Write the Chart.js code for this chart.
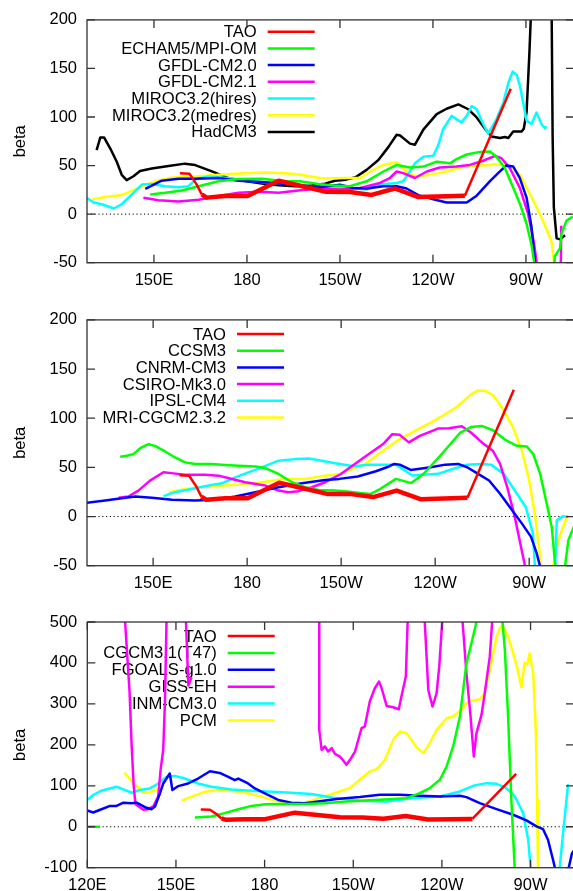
<!DOCTYPE html>
<html>
<head>
<meta charset="utf-8">
<script src="https://cdn.jsdelivr.net/npm/chart.js@4.4.1/dist/chart.umd.min.js"></script>
<style>
  html, body { margin: 0; padding: 0; background: #fff; overflow: hidden; width: 573px; height: 891px; }
  canvas { position: absolute; left: 0; }
</style>
</head>
<body>
<canvas id="p1" width="580" height="300" style="top:0px"></canvas>
<canvas id="p2" width="580" height="300" style="top:300px"></canvas>
<canvas id="p3" width="580" height="291" style="top:600px"></canvas>
<script>
// longitude ticks (degrees east)
const lonTicks = [120, 150, 180, 210, 240, 270];
const lonLabels = ['120E', '150E', '180', '150W', '120W', '90W'];

// observations, same in all panels; thick between these longitudes
const tao = [[158.4,42],[161.5,41.5],[163.8,30.4],[165.4,20.3],[167,17],[173,18.6],[180.2,18.6],[190.2,34.4],[205.5,23],[213.2,22.8],[220.2,19.8],[227.7,26.4],[235.3,17.6],[250.3,19],[265.1,129]];
const taoThick = [165.4, 250.3];

// panel 1
const echam5 = [[148.8,20.3],[153.6,22],[159,24.3],[164.4,28.7],[170.8,33.8],[177.3,36.1],[184.8,36.5],[192.3,33.8],[197.1,33.8],[203,31],[207.9,29.5],[213.2,28.8],[218.6,33.8],[224,43.9],[228.3,50.7],[232.6,48],[236.9,49],[241.2,54],[245.5,52.3],[247.6,56.7],[250.9,61.4],[255.1,64.1],[258.4,64.5],[260.5,59.2],[263.2,47.4],[265.9,27.2],[268.1,10.3],[270.2,-9.9],[271.8,-31.8],[272.6,-48.6],[274,-90],[278.5,-90],[279.3,-43.5],[281,-35],[281.5,-20],[283.1,-6.5],[285.1,-2.5]];
const gfdl20 = [[147.2,26],[152.5,34.4],[157.9,36.5],[163.3,36.5],[170.8,37.1],[177.3,34.4],[184.8,33.1],[192.3,31],[197.1,29.4],[203.6,27.7],[210,30.4],[214.3,27],[218.6,26.4],[224,28.8],[228.3,28.8],[231.5,26.4],[235.3,19.6],[240.1,15.3],[244.4,11.9],[250.9,11.9],[254.1,19],[258.4,33.9],[261.6,44],[263.7,50.1],[265.9,49],[268,37.3],[270.2,17],[271.8,-13.3],[272.9,-48.6],[274,-90]];
const gfdl21 = [[146.6,16.9],[151.5,14.2],[157.9,12.9],[164.4,14.9],[170.8,18.6],[177.3,22],[183.7,23],[190.2,22],[196.6,24.3],[203.1,26.5],[210,25.4],[216.5,27],[222.9,32.1],[226.1,37.2],[228.3,43.9],[230.4,42.2],[234.2,37.2],[238,43.9],[242.2,48],[247.6,49],[251.9,50.7],[256.2,55],[260,59.9],[262.1,57.5],[264.8,47.4],[268,27.2],[270.7,0.2],[272.6,-30],[273.4,-48.6],[275,-120],[281,-120],[281.4,-12]];
const mirocHi = [[128.3,16.9],[130.5,11.9],[133.2,10.2],[137,5.8],[139.6,10.2],[142.9,20.3],[146.1,30.4],[149.3,31],[153.6,28.7],[157.9,27.7],[161.1,28.7],[163.8,36.5],[167.6,38.8],[174,37.1],[181.6,33.8],[188,32.1],[194.5,31],[200.9,28.5],[205.7,27],[211.1,27.7],[218.6,25.4],[222.9,30.4],[228.3,32.1],[230.4,33.8],[232.6,43.9],[234.2,52.3],[236.9,59.1],[240.1,60.1],[241.7,70.9],[243.3,87.7],[246,101.2],[249.2,94.5],[250.9,101.2],[252.5,111.3],[254.1,108],[255.7,96.1],[257.8,82.8],[260.5,97.9],[262.7,114.8],[264.3,135],[265.7,146.8],[267,143.4],[268.1,131.7],[269.1,114.8],[270.2,96.3],[271.8,92.9],[273.4,104.7],[275,92.9],[276.1,88.5],[276.7,90.1]];
const mirocMed = [[130,15.2],[134.3,17.6],[139.6,19.6],[145,27],[150.4,33.8],[155.8,37.8],[163.3,38.8],[170.8,40.5],[179.4,42.2],[185.9,42.9],[192.3,42.2],[197.4,40.5],[204.3,36.8],[213.2,37.2],[216.5,37.2],[219.7,43.9],[224,50.7],[228.3,53.4],[230.4,47.3],[232.6,40.5],[235.8,38.9],[240.1,41.2],[244.4,43.9],[248.7,48],[254.1,50],[258.4,50.7],[260,51.4],[262.7,50.8],[265.9,47.4],[268.1,40.7],[270.2,27.2],[272.4,13.7],[274.5,0.2],[276.7,-16],[278.3,-28.5],[279,-48.6],[279.5,-80]];
const hadcm3 = [[131.5,66],[132.7,79],[133.9,79],[136,67],[138,54],[139.6,40.5],[141.2,35],[143.4,39],[145.5,44.5],[149.3,47],[154.7,49.5],[160,52],[163.3,50.5],[168.7,44],[174,37],[179.4,34],[184.8,31.5],[190.2,29.7],[195.5,28.7],[200.9,29.4],[205.2,31.4],[208.4,34.4],[212,35.5],[215,38],[218.6,45.6],[222.4,55.7],[225.6,69],[228.3,81.7],[229.4,81],[232.6,72.6],[234.2,71.5],[236.9,87],[241.2,103],[244.4,108.5],[248.2,113],[251.4,108],[254.1,99.6],[256.8,87.8],[258.9,80],[261.6,78.4],[263.2,79.4],[264.3,78.4],[265.9,85],[268.6,85],[269.3,88],[270.2,105],[271.1,165],[271.6,205],[273,400],[277,400],[278.3,205],[278.6,81],[279,7],[279.9,-25],[281,-26],[282.6,-21.7]];

// panel 2
const ccsm3 = [[139.5,60.8],[141.6,61.8],[143.7,63.5],[145.9,69.6],[148.5,73.6],[150.6,71.9],[153.8,66.2],[157,60.1],[160.2,55.1],[163.4,53.4],[168.7,53.4],[173,52.4],[177.2,51.7],[182.6,51],[185.8,49.3],[190,43.3],[194.3,34.9],[198.5,29.8],[202.8,27.1],[208.1,26.4],[212,25.5],[216,24],[219.5,23],[222.4,28],[227.5,38.3],[232.4,34],[236.5,44],[242.1,63.6],[247.9,85],[251.4,91],[254.9,92.2],[258.4,87.8],[262.8,77.1],[266,72],[269.2,71.3],[271.3,63.6],[273.5,43.4],[275.6,13],[277.2,-10.6],[278.3,-49.3],[279.5,-90],[281,-90],[281.5,-49.3],[282.5,-24],[284.3,-10]];
const cnrm = [[128.5,13.8],[134.7,16.3],[140,18.5],[144.3,20.4],[149.6,19],[156,17],[163.4,16.3],[169.8,17],[176.2,20.4],[182.6,24.7],[190,29.8],[197.5,33.8],[204.9,37.2],[209.4,38.3],[215.3,40.7],[221.1,46.1],[224.6,50.1],[226.9,53.5],[228.7,52.8],[232.2,47.4],[238.6,50.1],[243.2,52.8],[247.3,53.5],[250.2,50.1],[253.7,43.4],[257.2,36.6],[260.7,23.1],[264.2,8],[267.7,-7.2],[270.6,-20.7],[272.4,-37.5],[273.5,-51],[275,-80]];
const csiro = [[139,19],[142.1,20.4],[145.3,26.4],[149,36.5],[153.3,45],[156.5,43.9],[160.2,42.6],[166.6,42.6],[170.9,41.6],[175.1,38.2],[179.4,34.9],[185.8,31.5],[190,26.4],[193.2,24.7],[196.4,25.8],[200.7,29.8],[204.9,34.9],[209.8,43],[217.6,60.9],[223.4,73.7],[226.3,83.8],[228.7,83.1],[231.6,75.4],[235.1,82.1],[240.9,89.5],[244.4,89.9],[248.5,91.9],[251.4,85.5],[254.9,75.4],[258.4,66.9],[260.7,53.5],[263,29.9],[265.4,-0.5],[268.6,-49.3],[270,-90]];
const ipsl = [[153.3,20.7],[157,24.8],[162.3,28.1],[168.7,32.2],[171.9,33.8],[176.2,39.9],[180.4,45],[184.7,50],[190,56.8],[195.3,58.4],[199.6,59.1],[203.8,56.8],[208.1,54.1],[214.1,51.1],[218.8,52.8],[223.4,52.8],[227.5,52.8],[232.7,41.7],[237.4,42.7],[240.9,43.4],[245.6,48.4],[250.2,52.8],[254.9,53.5],[257.8,52.8],[261.9,43.4],[265.4,26.5],[268.9,9.7],[271.2,-17.3],[271.8,-49.3],[273,-90],[278,-90],[278.3,-49.3],[278.8,-3.9],[280.7,0.2],[282.5,-0.5]];
const mri = [[154.9,24.8],[160.2,28.1],[166.6,30.5],[173,31.5],[179.4,33.2],[185.8,35.5],[192.1,38.2],[198.5,38.2],[204.9,41.6],[209.8,43.4],[217.6,53.5],[223.4,66.9],[228.1,77.7],[232.7,85.5],[238.6,95.6],[243.2,104],[247.3,112.4],[251.4,124.2],[253.7,128.3],[256.1,127.6],[258.4,123.6],[261.3,110.8],[264.8,91.2],[267.7,66.9],[270,36.6],[271.8,2.9],[273.8,-49.3],[275,-90],[277,-90],[277.7,-49.3],[279.3,-24],[282,-0.5],[282.6,0]];

// panel 3
const cgcm31 = [[120.3,0],[124.3,0],[140,null],[156.4,22.7],[162,25.1],[166.5,33.2],[171.1,42.8],[175.6,50.9],[180.1,54.9],[186.8,55.7],[193.6,55.7],[200.3,57.3],[207.7,61.8],[219,65.9],[228,69.9],[232.5,82.1],[235.9,94.3],[239.3,114.6],[241.6,147.2],[243.8,196],[246.1,269],[248.3,399],[250,448],[251.7,500],[255,700],[259,700],[260.5,500],[261.3,431.7],[262.4,269.1],[263.5,65.9],[264.6,-96.7],[265,-130]];
const fgoals = [[120,39.8],[122,34.8],[124.8,42.8],[127.7,50.9],[129.9,50.9],[132.2,58.9],[135,57.3],[136.7,58.9],[139.5,47.7],[141.7,42.8],[142.9,49.3],[144.5,80],[145.7,105.7],[147.9,129.9],[148.8,89.6],[150.8,99.3],[154.1,105.7],[157.5,117.8],[161.5,135.5],[164.8,131.5],[167.7,121.8],[169.9,113.8],[171.1,117.8],[174.4,105.7],[176.7,93.6],[180.1,81.5],[184.6,65.4],[189.1,58.9],[193.6,57.3],[198.1,61.4],[204.4,67.5],[212.2,72.4],[219,78],[225.8,78],[232.5,75.6],[239.3,74],[246.1,75.6],[248.3,72.4],[252.8,57.7],[258.5,43.1],[264.1,29.3],[268.6,15.4],[272,0.8],[274.2,-5.7],[275.9,-31.7],[277.6,-80.5],[278.2,-99.2],[279,-130],[282,-130],[284,-65],[285,-55]];
const giss = [[132,800],[132.8,500],[133.5,420],[134.3,330],[135,200],[135.7,100],[136.3,55],[139,41.5],[140.6,43],[142.3,49.6],[144,74],[144.8,139],[145.7,188],[146.3,310],[146.8,500],[150,900],[153.4,500],[154.2,345],[155.3,365],[160,null],[196,900],[198.5,500],[198.5,236.6],[199.3,187.8],[200.4,196],[201.5,183.7],[202.7,191.9],[203.8,178],[205.5,171.5],[206.6,161.8],[207.7,151.2],[208.9,163.4],[210.6,183.7],[212.8,240.6],[213.9,244.7],[215.6,305.7],[217.3,338.2],[218.7,354.5],[219.6,338.2],[221.3,295.1],[223.5,291.9],[225.4,287],[226.3,317.9],[227.8,366.7],[228.4,500],[231,800],[234.2,500],[235.4,334.1],[236.8,293.5],[238.2,326],[239.1,391],[240.1,500],[243.5,800],[247,500],[248.3,374.8],[249.7,269],[250.8,171.5],[251.7,228.5],[253.4,273.2],[254.5,326],[256.2,415.4],[257,500],[259,800]];
const inm = [[120,65.4],[122,77.5],[124.8,88],[129.9,97.6],[132.2,91.2],[135,83.1],[137.8,89.6],[141.2,93.6],[144,105.7],[146.8,121.8],[149.6,124.2],[153,117.8],[157.5,105.7],[162,97.6],[168.8,91.2],[175.6,88],[182.3,85.6],[189.1,83.1],[195.8,79.9],[203.2,71],[212.2,63.4],[221.3,61.8],[230.3,69.9],[239.3,74],[246.1,86.2],[250.6,100],[255.1,106.5],[258.5,104.9],[261.8,94.3],[264.7,74],[267.5,33.3],[269.2,-31.7],[270,-99.2],[271,-140],[279,-140],[279.9,-96.7],[281,-15.4],[282.7,104]];
const pcm = [[132.5,132.3],[133.9,121.8],[135.5,105.7],[137.8,93.6],[138.9,83.1],[140.6,83.1],[142.3,87.2],[144.6,93.6],[148,null],[151.9,63.8],[155.3,73.5],[159.8,85.6],[164.3,89.6],[168.8,88],[173.3,83.1],[178.9,73.5],[184.6,61.4],[189.1,57.3],[193.6,58.9],[198.4,70],[204.4,83.7],[208.9,94.3],[212.2,114.6],[215.6,135],[217.9,140.6],[220.7,163.4],[223.5,212.2],[225.8,232.5],[228,228.5],[229.7,212.2],[231.4,194.3],[233.7,179.7],[235.9,204.1],[238.2,236.6],[241.6,265],[243.8,269.1],[246.6,285.4],[248.9,305.7],[252.8,311.4],[254.5,326],[256.2,382.9],[258.5,464.2],[259.8,488.6],[260.9,487],[262.4,464.2],[264.1,423.6],[265.4,391],[266.9,340.6],[268,400.8],[268.8,395.1],[269.7,423.6],[270.9,374.8],[271.8,228.5],[272.2,65.9],[272.5,-99.2],[273,-150]];

const colors = ['#ff0000', '#00ff00', '#0000ff', '#ff00ff', '#00ffff', '#ffff00', '#000000'];
const FONT = '"Liberation Sans", Arial, Helvetica, sans-serif';

Chart.defaults.font.family = FONT;
Chart.defaults.font.size = 16.5;
Chart.defaults.color = '#000';

const xy = pts => pts.map(([x, y]) => ({ x, y }));

// gnuplot style box: border, inward ticks on all four sides, dotted zero line
const frame = {
  id: 'frame',
  beforeDatasetsDraw(chart) {
    const { ctx, chartArea: a, scales: { y } } = chart;
    const y0 = y.getPixelForValue(0);
    ctx.save();
    ctx.strokeStyle = '#000';
    ctx.lineWidth = 1;
    ctx.setLineDash([1.2, 2.6]);
    ctx.beginPath();
    ctx.moveTo(a.left, y0);
    ctx.lineTo(a.right, y0);
    ctx.stroke();
    ctx.restore();
  },
  afterDatasetsDraw(chart) {
    const { ctx, chartArea: a, scales: { x, y } } = chart;
    ctx.save();
    ctx.strokeStyle = '#333';
    ctx.lineWidth = 1.3;
    ctx.strokeRect(a.left, a.top, a.right - a.left, a.bottom - a.top);
    ctx.beginPath();
    x.ticks.forEach(t => {
      const px = x.getPixelForValue(t.value);
      ctx.moveTo(px, a.bottom); ctx.lineTo(px, a.bottom - 8);
      ctx.moveTo(px, a.top); ctx.lineTo(px, a.top + 8);
    });
    y.ticks.forEach(t => {
      const py = y.getPixelForValue(t.value);
      ctx.moveTo(a.left, py); ctx.lineTo(a.left + 8, py);
      ctx.moveTo(a.right, py); ctx.lineTo(a.right - 8, py);
    });
    ctx.stroke();
    ctx.restore();
  }
};

// key: right aligned names with the line sample to their right
const key = {
  id: 'key',
  beforeDatasetsDraw(chart, args, o) {
    const ctx = chart.ctx;
    ctx.save();
    ctx.font = '16.6px ' + FONT;
    ctx.textAlign = 'right';
    ctx.textBaseline = 'middle';
    ctx.fillStyle = '#000';
    chart.data.datasets.forEach((ds, i) => {
      const y = o.top + i * o.step;
      ctx.fillText(ds.label, o.right, y + 1);
      ctx.strokeStyle = ds.borderColor;
      ctx.lineWidth = 2.5;
      ctx.beginPath();
      ctx.moveTo(o.right + 11, y);
      ctx.lineTo(o.right + 58, y);
      ctx.stroke();
    });
    ctx.restore();
  }
};

function makeDataset(label, pts, i) {
  const ds = {
    label,
    data: xy(pts),
    borderColor: colors[i],
    borderWidth: 2.5,
    borderJoinStyle: 'round',
    pointRadius: 0,
    tension: 0,
    spanGaps: false
  };
  if (label === 'TAO') {
    ds.segment = {
      borderWidth: c => (c.p0.parsed.x >= taoThick[0] && c.p1.parsed.x <= taoThick[1]) ? 4.5 : 2.5
    };
  }
  return ds;
}

function panel(id, p) {
  new Chart(document.getElementById(id), {
    type: 'line',
    data: { datasets: p.series.map(([label, pts], i) => makeDataset(label, pts, i)) },
    options: {
      responsive: false,
      animation: false,
      layout: { padding: { top: p.top, right: 6, left: 0, bottom: 0 } },
      plugins: { legend: { display: false }, tooltip: { enabled: false }, key: p.key },
      scales: {
        x: {
          type: 'linear',
          min: p.xmin,
          max: p.xmax,
          afterBuildTicks: s => { s.ticks = lonTicks.filter(v => v >= p.xmin && v <= p.xmax).map(v => ({ value: v })); },
          afterFit: s => { s.height = p.xh; },
          ticks: { autoSkip: false, maxRotation: 0, padding: 8, callback: v => lonLabels[lonTicks.indexOf(v)] },
          grid: { display: false, drawTicks: false },
          border: { display: false }
        },
        y: {
          min: p.ymin,
          max: p.ymax,
          afterFit: s => { s.width = p.yw; },
          ticks: { stepSize: p.step, padding: 10 },
          grid: { display: false, drawTicks: false },
          border: { display: false },
          title: { display: true, text: 'beta', padding: { top: 11, bottom: 0 } }
        }
      }
    },
    plugins: [frame, key]
  });
}

panel('p1', {
  series: [['TAO', tao], ['ECHAM5/MPI-OM', echam5], ['GFDL-CM2.0', gfdl20], ['GFDL-CM2.1', gfdl21],
           ['MIROC3.2(hires)', mirocHi], ['MIROC3.2(medres)', mirocMed], ['HadCM3', hadcm3]],
  xmin: 128.4, xmax: 285.5, ymin: -50, ymax: 200, step: 50,
  top: 15.7, xh: 37.3, yw: 87,
  key: { right: 256.7, top: 31.7, step: 16.7 }
});

panel('p2', {
  series: [['TAO', tao], ['CCSM3', ccsm3], ['CNRM-CM3', cnrm], ['CSIRO-Mk3.0', csiro],
           ['IPSL-CM4', ipsl], ['MRI-CGCM2.3.2', mri]],
  xmin: 128.9, xmax: 284.3, ymin: -50, ymax: 200, step: 50,
  top: 18.3, xh: 34.3, yw: 87,
  key: { right: 226, top: 34, step: 16.7 }
});

panel('p3', {
  series: [['TAO', tao], ['CGCM3.1(T47)', cgcm31], ['FGOALS-g1.0', fgoals], ['GISS-EH', giss],
           ['INM-CM3.0', inm], ['PCM', pcm]],
  xmin: 120, xmax: 284.7, ymin: -100, ymax: 500, step: 100,
  top: 22, xh: 23.3, yw: 87.3,
  key: { right: 216.7, top: 36, step: 16.9 }
});
</script>
</body>
</html>
